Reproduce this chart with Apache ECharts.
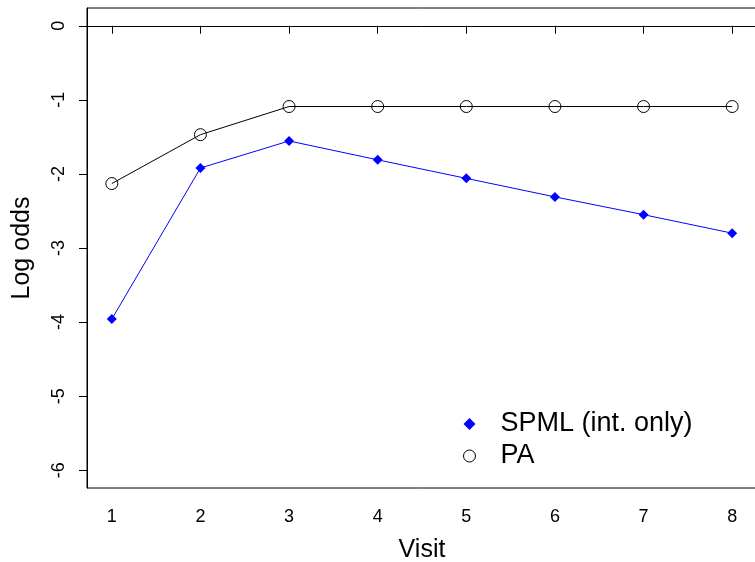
<!DOCTYPE html>
<html>
<head>
<meta charset="utf-8">
<script src="https://cdn.jsdelivr.net/npm/echarts@6/dist/echarts.min.js"></script>
<style>
  html, body { margin: 0; padding: 0; background: #fff; }
  #chart { width: 755px; height: 562px; }
</style>
</head>
<body>
<div id="chart"></div>
<script>
// data
const visits = [1, 2, 3, 4, 5, 6, 7, 8]
const spml = [-3.96, -1.92, -1.555, -1.81, -2.06, -2.31, -2.55, -2.80]
const pa = [-2.13, -1.47, -1.09, -1.09, -1.09, -1.09, -1.09, -1.09]
const xTicks = [1, 2, 3, 4, 5, 6, 7, 8]
const yTicks = [0, -1, -2, -3, -4, -5, -6]

const font = 'Liberation Sans, Arial, sans-serif'
const myChart = echarts.init(document.getElementById('chart'))

myChart.setOption({
  animation: false,
  grid: {
    left: 87,
    top: 8,
    width: 670,
    height: 480,
    outerBoundsMode: 'none',
    containLabel: false,
    show: true,
    borderColor: '#000',
    borderWidth: 1,
  },
  xAxis: {
    type: 'value',
    min: 0.72,
    max: 8.28,
    name: 'Visit',
    nameLocation: 'middle',
    nameGap: 50,
    nameTextStyle: { fontFamily: font, fontSize: 25, color: '#000' },
    splitLine: { show: false },
    axisLine: { show: true, lineStyle: { color: '#000' } },
    axisTick: { show: true, length: 8, customValues: xTicks, lineStyle: { color: '#000' } },
    axisLabel: { customValues: xTicks, margin: 20, fontFamily: font, fontSize: 18, color: '#000' },
  },
  yAxis: {
    type: 'value',
    min: -6.24,
    max: 0.24,
    name: 'Log odds',
    nameLocation: 'middle',
    nameRotate: 90,
    nameGap: 52,
    nameTextStyle: { fontFamily: font, fontSize: 25, color: '#000' },
    splitLine: { show: false },
    axisLine: { show: true, lineStyle: { color: '#000' } },
    axisTick: { show: true, length: 8, customValues: yTicks, lineStyle: { color: '#000' } },
    axisLabel: { customValues: yTicks, rotate: 90, margin: 19, fontFamily: font, fontSize: 18, color: '#000' },
  },
  legend: {
    orient: 'vertical',
    left: 463,
    top: 408,
    padding: 0,
    itemWidth: 12,
    itemHeight: 12,
    itemGap: 0,
    textStyle: { fontFamily: font, fontSize: 27, color: '#000', lineHeight: 32, padding: [0, 0, 0, 20] },
    data: [
      { name: 'SPML (int. only)', icon: 'diamond', itemStyle: { color: '#0000ff', borderWidth: 0 } },
      { name: 'PA', icon: 'circle', itemStyle: { color: 'rgba(0,0,0,0)', borderColor: '#000', borderWidth: 1 } },
    ],
  },
  series: [
    {
      name: 'SPML (int. only)',
      type: 'line',
      data: visits.map((v, i) => [v, spml[i]]),
      symbol: 'diamond',
      symbolSize: 10,
      itemStyle: { color: '#0000ff' },
      lineStyle: { color: '#0000ff', width: 1 },
    },
    {
      name: 'PA',
      type: 'line',
      data: visits.map((v, i) => [v, pa[i]]),
      symbol: 'circle',
      symbolSize: 12,
      itemStyle: { color: 'rgba(0,0,0,0)', borderColor: '#000', borderWidth: 1 },
      lineStyle: { color: '#000', width: 1 },
    },
  ],
})
</script>
</body>
</html>
